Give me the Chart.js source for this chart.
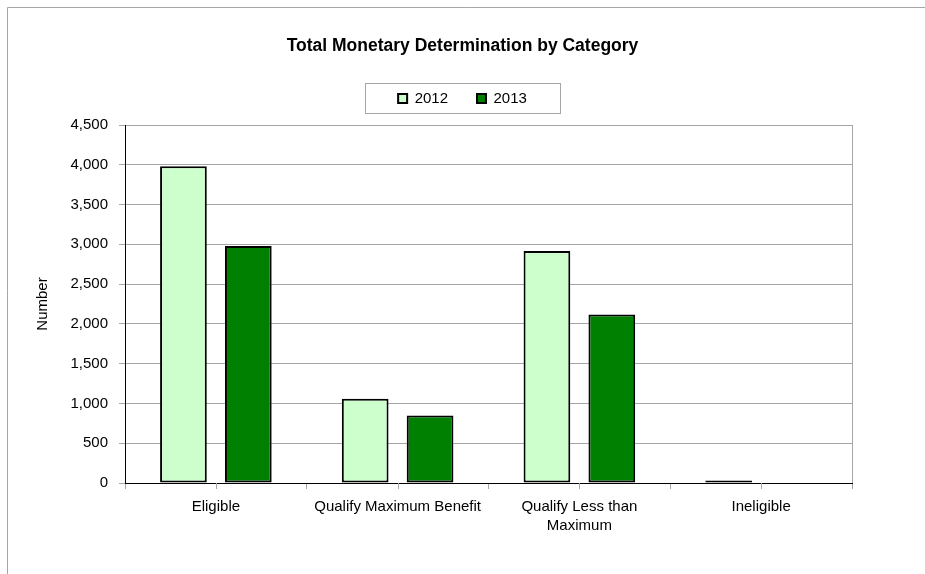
<!DOCTYPE html>
<html>
<head>
<meta charset="utf-8">
<script src="https://cdn.jsdelivr.net/npm/chart.js@4.4.1/dist/chart.umd.min.js"></script>
<style>
  html, body { margin: 0; padding: 0; background: #fff; }
  #wrap { width: 925px; height: 574px; }
</style>
</head>
<body>
<div id="wrap"><canvas id="chart" width="925" height="574"></canvas></div>
<script>
// Dados
const categorias = ['Eligible', 'Qualify Maximum Benefit', ['Qualify Less than', 'Maximum'], 'Ineligible'];
const valores2012 = [3980, 1060, 2915, 30];
const valores2013 = [2980, 850, 2117, 0];
const rotulosY = ['0', '500', '1,000', '1,500', '2,000', '2,500', '3,000', '3,500', '4,000', '4,500'];

const FONTE = "'Liberation Sans', Arial, sans-serif";
const CINZA = '#a6a6a6';

// moldura externa + caixa da legenda + marcas no centro das categorias
const extras = {
    id: 'extras',
    beforeDraw(chart) {
        const ctx = chart.ctx;
        ctx.save();
        ctx.fillStyle = '#fff';
        ctx.fillRect(0, 0, chart.width, chart.height);
        ctx.strokeStyle = CINZA;
        ctx.lineWidth = 1;
        ctx.beginPath();
        ctx.moveTo(7.5, chart.height);
        ctx.lineTo(7.5, 7.5);
        ctx.lineTo(chart.width, 7.5);
        ctx.stroke();
        ctx.restore();
    },
    beforeDatasetsDraw(chart) {
        const ctx = chart.ctx;
        const area = chart.chartArea;
        const x = chart.scales.x;
        ctx.save();
        ctx.strokeStyle = CINZA;
        ctx.lineWidth = 1;
        ctx.beginPath();
        // borda direita da área do gráfico
        ctx.moveTo(Math.round(area.right) + 0.5, area.top);
        ctx.lineTo(Math.round(area.right) + 0.5, area.bottom);
        // marcas no centro de cada categoria
        categorias.forEach((c, i) => {
            const px = Math.round(x.getPixelForValue(i)) + 0.5;
            ctx.moveTo(px, area.bottom);
            ctx.lineTo(px, area.bottom + 6);
        });
        ctx.stroke();
        ctx.restore();
    },
    afterDraw(chart) {
        const boxes = chart.legend.legendHitBoxes;
        if (!boxes || !boxes.length) return;
        const first = boxes[0];
        const last = boxes[boxes.length - 1];
        const left = first.left - 33;
        const right = last.left + last.width + 33;
        const top = first.top - 8;
        const bottom = first.top + first.height + 7;
        const ctx = chart.ctx;
        ctx.save();
        ctx.strokeStyle = CINZA;
        ctx.lineWidth = 1;
        ctx.strokeRect(Math.round(left) + 0.5, Math.round(top) + 0.5, Math.round(right - left), Math.round(bottom - top));
        ctx.restore();
    }
};

const ctx = document.getElementById('chart').getContext('2d');
new Chart(ctx, {
    type: 'bar',
    data: {
        labels: categorias,
        datasets: [{
            label: '2012',
            data: valores2012,
            backgroundColor: '#ccffcc',
            borderColor: '#000',
            borderWidth: 2,
            borderSkipped: false,
            categoryPercentage: 0.714,
            barPercentage: 0.72
        }, {
            label: '2013',
            data: valores2013,
            backgroundColor: '#008000',
            borderColor: '#000',
            borderWidth: 2,
            borderSkipped: false,
            categoryPercentage: 0.714,
            barPercentage: 0.72
        }]
    },
    options: {
        responsive: false,
        animation: false,
        layout: { padding: 0 },
        plugins: {
            tooltip: { enabled: false },
            title: {
                display: true,
                text: 'Total Monetary Determination by Category',
                color: '#000',
                font: { family: FONTE, size: 17.5, weight: 'bold' },
                padding: { top: 36, bottom: 5 }
            },
            legend: {
                display: true,
                position: 'top',
                labels: {
                    color: '#000',
                    font: { family: FONTE, size: 15 },
                    boxWidth: 9,
                    boxHeight: 9,
                    padding: 29
                }
            }
        },
        scales: {
            x: {
                grid: {
                    offset: true,
                    drawOnChartArea: false,
                    color: CINZA,
                    tickLength: 6
                },
                border: { color: '#000', width: 1 },
                ticks: {
                    color: '#000',
                    font: { family: FONTE, size: 15, lineHeight: 1.3 },
                    padding: 8,
                    maxRotation: 0,
                    autoSkip: false
                },
                afterFit(scale) { scale.height = 91; }
            },
            // eixo vazio no topo só para afastar a legenda da área do gráfico
            topo: {
                type: 'category',
                position: 'top',
                grid: { display: false },
                border: { display: false },
                ticks: { display: false },
                afterFit(scale) { scale.height = 9; }
            },
            y: {
                min: 0,
                max: 4500,
                grid: { color: CINZA, tickLength: 6 },
                border: { color: '#000', width: 1 },
                ticks: {
                    stepSize: 500,
                    color: '#000',
                    font: { family: FONTE, size: 15 },
                    padding: 11,
                    callback: (v, i) => rotulosY[i]
                },
                title: {
                    display: true,
                    text: 'Number',
                    color: '#000',
                    font: { family: FONTE, size: 15 },
                    padding: { top: 34, bottom: 0 }
                },
                afterFit(scale) { scale.width = 125; }
            },
            // eixo vazio à direita só para reservar a margem
            margem: {
                type: 'linear',
                position: 'right',
                min: 0,
                max: 4500,
                grid: { display: false },
                border: { display: false },
                ticks: { display: false },
                afterFit(scale) { scale.width = 73; }
            }
        }
    },
    plugins: [extras]
});
</script>
</body>
</html>
